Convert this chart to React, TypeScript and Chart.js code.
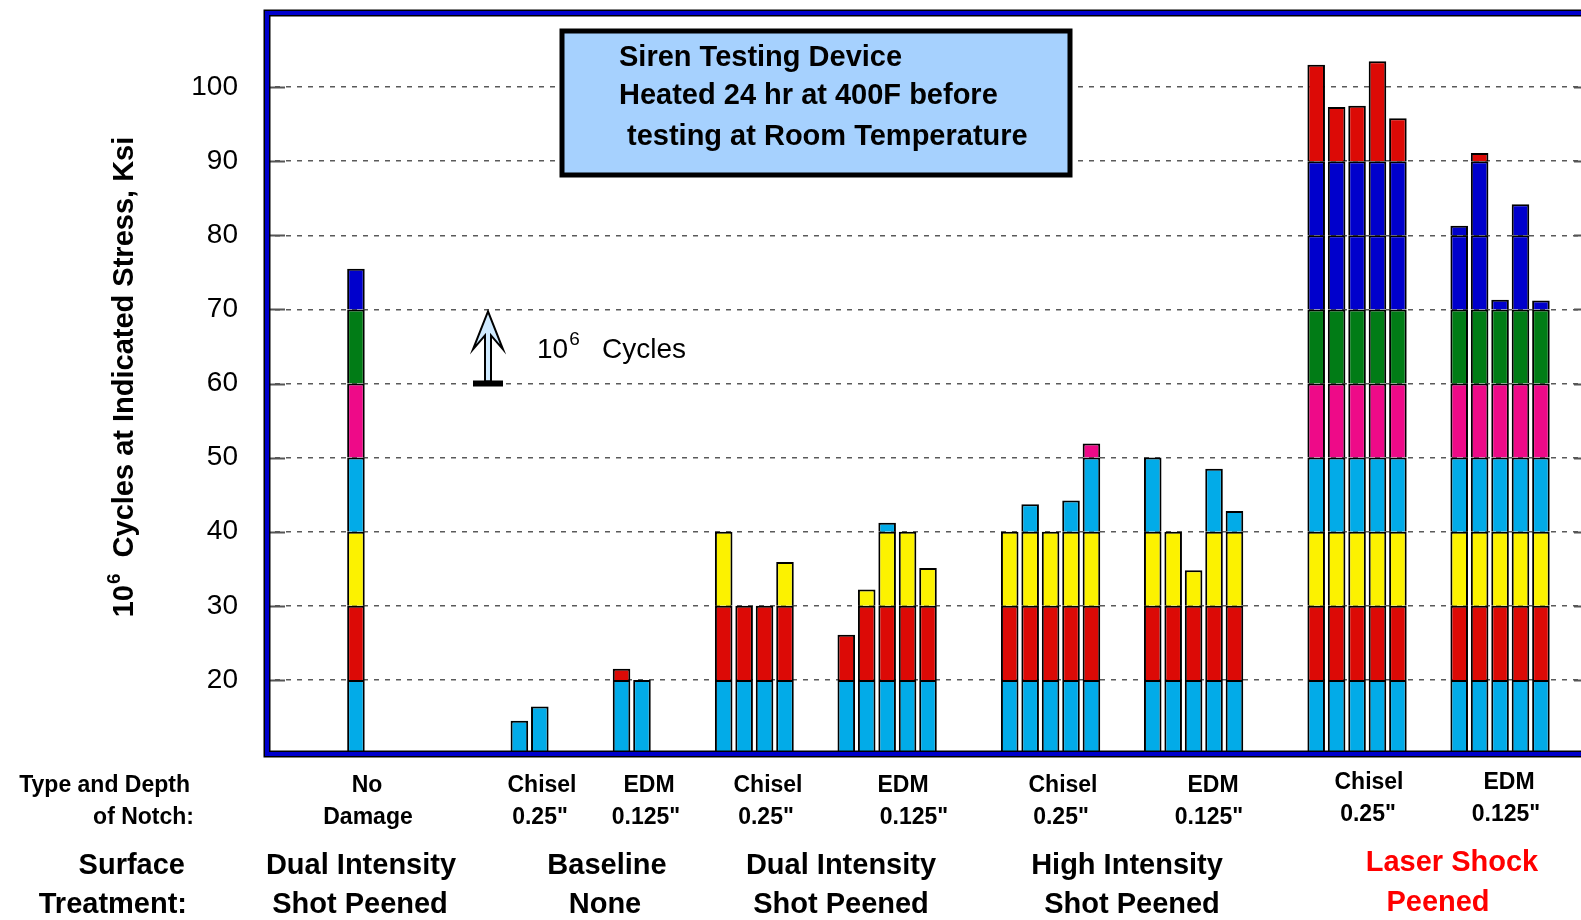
import React, { useEffect, useRef } from 'react';
import { Chart, registerables } from 'chart.js';

Chart.register(...registerables);

// ---- Data (top of each stacked bar, Ksi at which 10^6 cycles were reached) ----
const noDamage = [75.5];
const baselineChisel = [14.5, 16.4];
const baselineEDM = [21.5, 20];
const dualChisel = [40, 30, 30, 35.9];
const dualEDM = [26.1, 32.2, 41.2, 40, 35.1];
const highChisel = [40, 43.7, 40, 44.2, 51.9];
const highEDM = [50, 40, 34.8, 48.5, 42.8];
const laserChisel = [103, 97.3, 97.5, 103.5, 95.8];
const laserEDM = [81.3, 91.1, 71.3, 84.2, 71.2];

const groupNames = ['No Damage', 'Baseline Chisel', 'Baseline EDM', 'Dual Chisel', 'Dual EDM', 'High Chisel', 'High EDM', 'Laser Chisel', 'Laser EDM'];
const groups = [noDamage, baselineChisel, baselineEDM, dualChisel, dualEDM, highChisel, highEDM, laserChisel, laserEDM];
// empty category slots before each group (and after the last one)
const spacerSlots = [4, 7, 3, 3, 2, 3, 2, 3, 2, 2];

// stress steps: lower / upper bound of each coloured band
const bandLower = [10, 20, 30, 40, 50, 60, 70, 80, 90];
const bandUpper = [20, 30, 40, 50, 60, 70, 80, 90, Infinity];
const bandColors = ['#02abe8', '#dc0a06', '#fcf200', '#02abe8', '#ee0a88', '#017c16', '#0000cc', '#0000cc', '#dc0a06'];

const yTickValues = [20, 30, 40, 50, 60, 70, 80, 90, 100];

const notchTop = ['No', 'Chisel', 'EDM', 'Chisel', 'EDM', 'Chisel', 'EDM', 'Chisel', 'EDM'];
const notchBottom = ['Damage', '0.25"', '0.125"', '0.25"', '0.125"', '0.25"', '0.125"', '0.25"', '0.125"'];
const treatmentTop = ['Dual Intensity', 'Baseline', 'Dual Intensity', 'High Intensity', 'Laser Shock'];
const treatmentBottom = ['Shot Peened', 'None', 'Shot Peened', 'Shot Peened', 'Peened'];

// ---- build category table ----
const categories: string[] = [];
const tops: (number | null)[] = [];
groups.forEach((g, gi) => {
  for (let i = 0; i < spacerSlots[gi]; i++) { categories.push(''); tops.push(null); }
  g.forEach((v, i) => { categories.push(groupNames[gi] + ' ' + (i + 1)); tops.push(v); });
});
for (let i = 0; i < spacerSlots[spacerSlots.length - 1]; i++) { categories.push(''); tops.push(null); }

const datasets = bandLower.map((lo, k) => ({
  label: lo + '-' + bandUpper[k],
  data: tops.map((t) => {
    if (t === null) return null;
    if (k === 0) return Math.min(t, bandUpper[0]);
    if (t <= lo) return null;
    return Math.min(t, bandUpper[k]) - lo;
  }),
  backgroundColor: bandColors[k],
  borderColor: '#000000',
  borderWidth: 2,
  borderSkipped: 'start' as const,
  barPercentage: 0.86,
  categoryPercentage: 1,
  clip: 0,
}));

const FONT = '"Liberation Sans", Arial, Helvetica, sans-serif';
const FRAME_INSET = 3;

const decorPlugin = {
  id: 'decor',
  afterDraw(chart: any) {
    const { ctx, chartArea: a, scales } = chart;
    const y = scales.y;
    const fl = a.left + FRAME_INSET;
    ctx.save();

    // inward tick marks
    ctx.strokeStyle = '#555555';
    ctx.lineWidth = 2;
    yTickValues.forEach((v) => {
      const py = Math.round(y.getPixelForValue(v)) + 0.5;
      ctx.beginPath();
      ctx.moveTo(fl + 3, py); ctx.lineTo(fl + 18, py);
      ctx.moveTo(a.right - 18, py); ctx.lineTo(a.right - 3, py);
      ctx.stroke();
    });

    // plot frame
    ctx.strokeStyle = '#000000';
    ctx.lineWidth = 7;
    ctx.strokeRect(fl, a.top, a.right - fl, a.bottom - a.top);
    ctx.strokeStyle = '#0000cc';
    ctx.lineWidth = 4;
    ctx.strokeRect(fl, a.top, a.right - fl, a.bottom - a.top);

    // title box
    ctx.fillStyle = '#a6d1fe';
    ctx.fillRect(562, 31, 508, 144);
    ctx.strokeStyle = '#000000';
    ctx.lineWidth = 5;
    ctx.strokeRect(562, 31, 508, 144);
    ctx.fillStyle = '#000000';
    ctx.font = 'bold 29px ' + FONT;
    ctx.textAlign = 'left';
    ctx.textBaseline = 'middle';
    ctx.fillText('Siren Testing Device', 619, 58);
    ctx.fillText('Heated 24 hr at 400F before', 619, 96);
    ctx.fillText('testing at Room Temperature', 627, 137);

    // 10^6 cycles arrow, spanning one stress step (60 -> 70)
    const yBase = y.getPixelForValue(60);
    const yTip = y.getPixelForValue(70);
    const cx = 488;
    ctx.fillStyle = '#cfeaff';
    ctx.strokeStyle = '#000000';
    ctx.lineWidth = 2;
    ctx.beginPath();
    ctx.moveTo(cx, yTip + 2);
    ctx.lineTo(cx + 15, yTip + 40);
    ctx.lineTo(cx + 3, yTip + 26);
    ctx.lineTo(cx + 3, yBase - 2);
    ctx.lineTo(cx - 3, yBase - 2);
    ctx.lineTo(cx - 3, yTip + 26);
    ctx.lineTo(cx - 15, yTip + 40);
    ctx.closePath();
    ctx.fill();
    ctx.stroke();
    ctx.fillStyle = '#000000';
    ctx.fillRect(cx - 15, yBase - 3, 30, 6);

    ctx.font = '28px ' + FONT;
    ctx.textAlign = 'left';
    ctx.fillText('10', 537, 350);
    const w10 = ctx.measureText('10').width;
    ctx.font = '19px ' + FONT;
    ctx.fillText('6', 537 + w10 + 1, 340);
    ctx.font = '28px ' + FONT;
    ctx.fillText('Cycles', 602, 350);

    // y axis title (rotated)
    ctx.save();
    ctx.translate(125, 377);
    ctx.rotate(-Math.PI / 2);
    ctx.font = 'bold 29px ' + FONT;
    const mainT = 'Cycles at Indicated Stress, Ksi';
    const wa = ctx.measureText('10').width;
    const wm = ctx.measureText(mainT).width;
    ctx.font = 'bold 19px ' + FONT;
    const ws = ctx.measureText('6').width;
    const gap = 17;
    const total = wa + ws + gap + wm;
    const sx = -total / 2;
    ctx.textAlign = 'left';
    ctx.font = 'bold 29px ' + FONT;
    ctx.fillText('10', sx, 0);
    ctx.font = 'bold 19px ' + FONT;
    ctx.fillText('6', sx + wa + 1, -10);
    ctx.font = 'bold 29px ' + FONT;
    ctx.fillText(mainT, sx + wa + ws + gap, 0);
    ctx.restore();

    // category texts below the plot
    ctx.fillStyle = '#000000';
    ctx.textBaseline = 'middle';
    ctx.font = 'bold 23px ' + FONT;
    ctx.textAlign = 'right';
    ctx.fillText('Type and Depth', 190, 786);
    ctx.fillText('of Notch:', 194, 818);
    const n1x = [367, 542, 649, 768, 903, 1063, 1213, 1369, 1509];
    const n2x = [368, 540, 646, 766, 914, 1061, 1209, 1368, 1506];
    ctx.textAlign = 'center';
    notchTop.forEach((t, i) => ctx.fillText(t, n1x[i], i >= 7 ? 783 : 786));
    notchBottom.forEach((t, i) => ctx.fillText(t, n2x[i], i >= 7 ? 815 : 818));

    ctx.font = 'bold 29px ' + FONT;
    ctx.textAlign = 'right';
    ctx.fillText('Surface', 185, 866);
    ctx.fillText('Treatment:', 187, 905);
    const t1x = [361, 607, 841, 1127, 1452];
    const t2x = [360, 605, 841, 1132, 1438];
    ctx.textAlign = 'center';
    treatmentTop.forEach((t, i) => {
      ctx.fillStyle = i === 4 ? '#ff0000' : '#000000';
      ctx.fillText(t, t1x[i], i === 4 ? 863 : 866);
    });
    treatmentBottom.forEach((t, i) => {
      ctx.fillStyle = i === 4 ? '#ff0000' : '#000000';
      ctx.fillText(t, t2x[i], i === 4 ? 903 : 905);
    });

    ctx.restore();
  },
};

export default function App() {
  const ref = useRef<HTMLCanvasElement>(null);
  useEffect(() => {
    if (!ref.current) return;
    const chart = new Chart(ref.current, {
      type: 'bar',
      data: { labels: categories, datasets: datasets as any },
      options: {
        animation: false,
        responsive: false,
        maintainAspectRatio: false,
        layout: { padding: { left: 0, top: 13, right: 8, bottom: 166 } },
        plugins: {
          legend: { display: false },
          tooltip: { enabled: false },
          title: { display: false },
        },
        scales: {
          x: {
            type: 'category',
            stacked: true,
            display: false,
            offset: true,
          },
          y: {
            type: 'linear',
            stacked: true,
            min: 10,
            max: 110,
            afterFit: (axis: any) => {
              axis.width = 264;
              axis.paddingTop = 0;
              axis.paddingBottom = 0;
            },
            ticks: {
              stepSize: 10,
              padding: 26,
              color: '#000000',
              font: { family: FONT, size: 28 },
              callback: (v: any) => (yTickValues.includes(Number(v)) ? String(v) : ''),
            },
            grid: {
              drawTicks: false,
              lineWidth: 1.4,
              color: (c: any) => (c.tick && yTickValues.includes(c.tick.value) ? '#5a5a5a' : 'rgba(0,0,0,0)'),
            },
            border: { display: false, dash: [5, 6] },
          },
        },
      },
      plugins: [decorPlugin],
    });
    return () => chart.destroy();
  }, []);
  return (
    <div style={{ position: 'fixed', left: 0, top: 0, width: 1600, height: 920, background: '#ffffff' }}>
      <canvas ref={ref} width={1600} height={920} style={{ display: 'block' }} />
    </div>
  );
}
